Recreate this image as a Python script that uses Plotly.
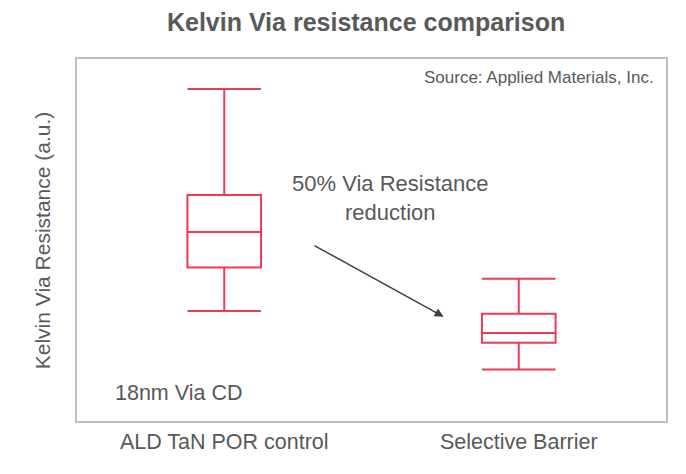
import plotly.graph_objects as go

# box statistics (arbitrary units)
categories = ["ALD TaN POR control", "Selective Barrier"]
lower_fence = [3.04, 1.42]
q1 = [4.24, 2.16]
median = [5.22, 2.43]
q3 = [6.24, 2.96]
upper_fence = [9.17, 3.93]

RED = "#EE3B55"
GREY = "#595959"
FONT = "Liberation Sans, Arial, sans-serif"

fig = go.Figure()
fig.add_trace(go.Box(
    x=categories,
    lowerfence=lower_fence,
    q1=q1,
    median=median,
    q3=q3,
    upperfence=upper_fence,
    width=0.25,
    whiskerwidth=1,
    fillcolor="rgba(0,0,0,0)",
    line=dict(color=RED, width=2),
    hoverinfo="skip",
    showlegend=False,
))

# the page adds ~8px body margin, so margins are shifted to compensate
fig.update_layout(
    width=686,
    height=474,
    margin=dict(l=69, r=28, t=51, b=61),
    paper_bgcolor="white",
    plot_bgcolor="white",
    font=dict(family=FONT, color=GREY, size=21),
    title=dict(
        text="<b>Kelvin Via resistance comparison</b>",
        x=0.522, xanchor="center", y=0.970, yanchor="middle",
        font=dict(size=25, color=GREY),
    ),
    xaxis=dict(
        range=[-0.5, 1.5],
        showgrid=False, zeroline=False, ticks="",
        showline=True, mirror=True, linecolor="#BFBFBF", linewidth=2,
        tickfont=dict(size=21.5, color=GREY),
    ),
    yaxis=dict(
        range=[0, 10],
        showgrid=False, zeroline=False, ticks="", showticklabels=False,
        showline=True, mirror=True, linecolor="#BFBFBF", linewidth=2,
    ),
)

fig.add_annotation(
    text="Kelvin Via Resistance (a.u.)", textangle=-90,
    xref="paper", yref="paper", x=-0.059, y=0.5,
    xanchor="center", yanchor="middle", showarrow=False,
    font=dict(size=21, color=GREY),
)
fig.add_annotation(
    text="Source: Applied Materials, Inc.",
    xref="paper", yref="paper", x=0.983, y=0.95,
    xanchor="right", yanchor="middle", showarrow=False,
    font=dict(size=17, color=GREY),
)
fig.add_annotation(
    text="50% Via Resistance<br>reduction",
    x=0.565, y=6.15, xanchor="center", yanchor="middle",
    showarrow=False, font=dict(size=22, color=GREY),
)
fig.add_annotation(
    text="18nm Via CD",
    x=-0.377, y=0.77, xanchor="left", yanchor="middle",
    showarrow=False, font=dict(size=21.5, color=GREY),
)
fig.add_annotation(
    x=0.745, y=2.88, ax=0.301, ay=4.87,
    xref="x", yref="y", axref="x", ayref="y",
    text="", showarrow=True, arrowhead=2, arrowsize=1.2,
    arrowwidth=1.5, arrowcolor="#404040",
)

fig.write_html("out.html")
